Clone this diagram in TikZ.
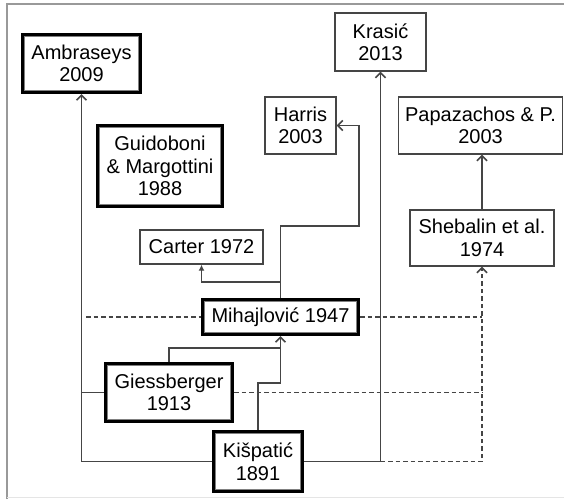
\documentclass[tikz,border=0pt]{standalone}
\usepackage{fontspec}
\setmainfont{Liberation Sans}
\usetikzlibrary{arrows.meta}
\definecolor{ln}{HTML}{454545}
\tikzset{
  box/.style={draw=ln, line width=1.4pt, fill=white, align=center, inner sep=0pt,
    font=\fontsize{20}{22.5}\selectfont},
  dbl/.style={box, draw=black, line width=3pt},
  conn/.style={draw=ln, line width=1.5pt},
  arr/.style={conn, -{Straight Barb[length=5pt,width=10pt,line width=1.6pt]}},
  smallarr/.style={conn, -{Latex[length=6pt,width=6pt]}},
  dsh/.style={draw=ln, line width=1.4pt, dash pattern=on 4.5pt off 3pt},
  inner/.style={draw=gray, line width=1.3pt}
}
\begin{document}
\begin{tikzpicture}[x=1pt,y=-1pt]
\useasboundingbox (0,0) rectangle (564,499);
\draw[gray!80, line width=1.6pt] (7,499) -- (7,4) -- (564,4);
\draw[gray!20, line width=0.8pt] (7,497.5) -- (564,497.5);

% nodes
\node[dbl, minimum width=118pt, minimum height=58pt] (amb) at (81.5,63.5) {Ambraseys\\2009};
\node[dbl, minimum width=125pt, minimum height=81pt] (gui) at (160,166) {Guidoboni\\\& Margottini\\1988};
\node[box, minimum width=123pt, minimum height=34pt] (car) at (201.5,247) {Carter 1972};
\node[box, minimum width=71pt, minimum height=57pt] (har) at (300.5,125.5) {Harris\\2003};
\node[box, minimum width=91pt, minimum height=58pt] (kra) at (380.5,42) {Krasić\\2013};
\node[box, minimum width=164pt, minimum height=57pt] (pap) at (480.5,125.5) {Papazachos \& P.\\2003};
\node[box, minimum width=144pt, minimum height=56pt] (she) at (482,238) {Shebalin et al.\\1974};
\node[dbl, minimum width=156pt, minimum height=35pt] (mih) at (280.5,317) {Mihajlović 1947};
\node[dbl, minimum width=127pt, minimum height=58pt] (gie) at (169,392.5) {Giessberger\\1913};
\node[dbl, minimum width=89pt, minimum height=60pt] (kis) at (258,461.5) {Kišpatić\\1891};

\foreach \n in {amb,gui,mih,gie,kis}
  \draw[inner] ([shift={(3.6pt,3.6pt)}]\n.south west) rectangle ([shift={(-3.6pt,-3.6pt)}]\n.north east);

% helper coordinates
\coordinate (dl) at (86,317);
\coordinate (j1) at (280.5,348);
\coordinate (j2) at (280.5,383);
\coordinate (c1) at (280.5,282);
\coordinate (h1) at (280.5,226);
\coordinate (h2) at (359,226);
\coordinate (h3) at (359,125.5);

% connectors
\draw[arr] (kis.west) -| (amb.south);
\draw[conn] (gie.west) -- (gie.west -| amb.south);
\draw[arr] (kis.east) -| (kra.south);
\draw[dsh, -{Straight Barb[length=5pt,width=10pt,line width=1.6pt]}] (kis.east -| kra.south) -| (she.south);
\draw[dsh] (gie.east) -- (gie.east -| she.south);
\draw[dsh] (dl) -- (mih.west);
\draw[dsh] (mih.east) -- (mih.east -| she.south);
\draw[arr] (gie.north) |- (j1) -- (mih.south);
\draw[conn] (kis.north) |- (j2) -- (j1);
\draw[smallarr] (mih.north) -- (c1) -| (car.south);
\draw[arr] (mih.north) -- (h1) -- (h2) -- (h3) -- (har.east);
\draw[arr] (she.north) -- (she.north |- pap.south);
\end{tikzpicture}
\end{document}
